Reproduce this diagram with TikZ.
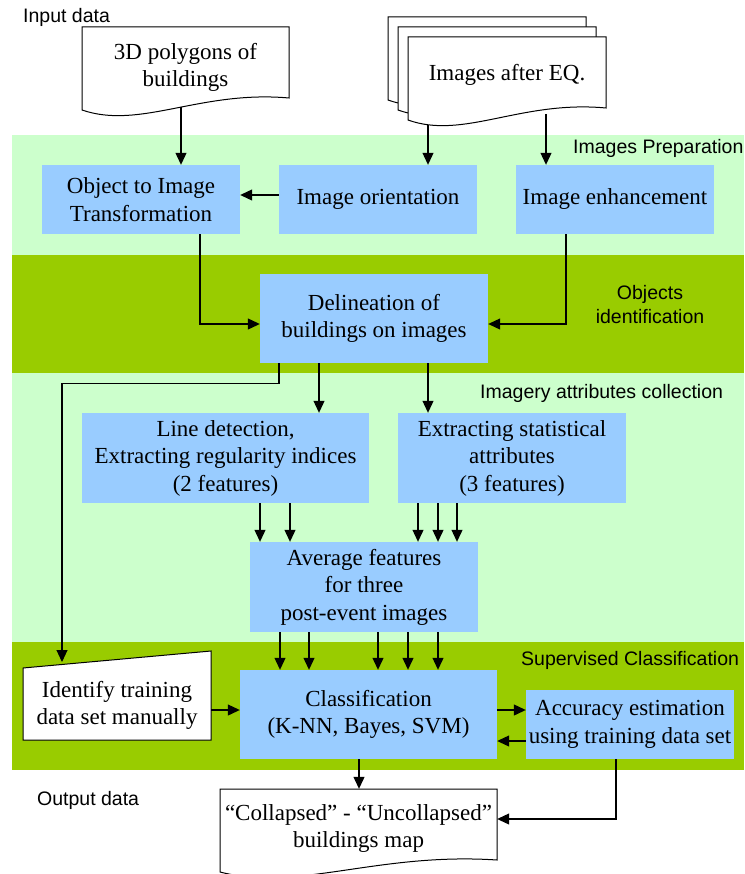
\documentclass[tikz,border=0pt]{standalone}
\usepackage{fontspec}
\setmainfont{Liberation Serif}
\setsansfont{Liberation Sans}
\usetikzlibrary{arrows.meta,calc}
\definecolor{lgreen}{HTML}{CCFFCC}
\definecolor{dgreen}{HTML}{99CC00}
\definecolor{bbox}{HTML}{99CCFF}
\newcommand\docpath[3]{%
  \draw[docline] (#1,#2) -- ({#1+#3},#2) -- ({#1+#3},{#2+71})
    .. controls ({#1+0.57*#3},{#2+63}) and ({#1+0.28*#3},{#2+103}) .. (#1,{#2+83}) -- cycle;}
\begin{document}
\begin{tikzpicture}[x=1pt,y=-1pt,
  box/.style={fill=bbox, inner sep=0pt, align=center, font=\fontsize{23}{27.5}\selectfont},
  txt/.style={inner sep=0pt, align=center, font=\fontsize{23}{27}\selectfont},
  docline/.style={draw=black, fill=white, line width=1pt},
  arr/.style={-{Triangle[length=12pt,width=11pt]}, line width=1.1pt},
  lab/.style={font=\sffamily\fontsize{19.5}{24}\selectfont, inner sep=0pt, align=center}]
\useasboundingbox (0,0) rectangle (744,874);
% bands
\fill[lgreen] (12,135) rectangle (744,255);
\fill[dgreen] (12,255) rectangle (744,373);
\fill[lgreen] (12,373) rectangle (744,642);
\fill[dgreen] (12,642) rectangle (744,770);
% labels
\node[lab, anchor=west] (lin) at (23,17) {Input data};
\node[lab, anchor=west] (lout) at (37,800) {Output data};
\node[lab, anchor=west] (lprep) at (573,148) {Images Preparation};
\node[lab] (lobj) at (650,305) {Objects\\identification};
\node[lab, anchor=west] (limg) at (480,393) {Imagery attributes collection};
\node[lab, anchor=west] (lsup) at (521,660) {Supervised Classification};
% documents
\docpath{82}{27}{207}
\node[txt, minimum width=207pt, minimum height=80pt] (doc1) at (185.5,67) {3D polygons of\\buildings};
\docpath{388}{17}{198}
\docpath{398}{27}{198}
\docpath{408}{37}{198}
\node[txt, minimum width=198pt, minimum height=76pt] (eq) at (507,75) {Images after EQ.};
\coordinate (d1out) at (181,107);
\coordinate (eq1) at (428,125);
\coordinate (eq2) at (546,114);
% boxes
\node[box, minimum width=198pt, minimum height=69pt] (obj) at (141,199.5) {Object to Image\\Transformation};
\node[box, minimum width=198pt, minimum height=69pt] (ori) at (378,199.5) {Image orientation};
\node[box, minimum width=198pt, minimum height=69pt] (enh) at (615,199.5) {Image enhancement};
\node[box, minimum width=228pt, minimum height=89pt] (del) at (374,318.5) {Delineation of\\buildings on images};
\node[box, minimum width=287pt, minimum height=90pt] (line) at (225.5,458) {Line detection,\\Extracting regularity indices\\(2 features)};
\node[box, minimum width=228pt, minimum height=90pt] (stat) at (512,458) {Extracting statistical\\attributes\\(3 features)};
\node[box, minimum width=228pt, minimum height=90pt] (avg) at (364,587) {Average features\\for three\\post-event images};
\node[box, minimum width=257pt, minimum height=89pt] (cls) at (368.5,714.5) {Classification\\(K-NN, Bayes, SVM)};
\node[box, minimum width=208pt, minimum height=69pt] (acc) at (630,724.5) {Accuracy estimation\\using training data set};
% manual input
\draw[docline] (23,668) -- (211,651) -- (211,740) -- (23,740) -- cycle;
\node[txt, minimum width=188pt, minimum height=70pt] (idt) at (117,705) {Identify training\\data set manually};
\coordinate (idtin) at (62,662);
% output document
\docpath{220}{789}{277}
\node[txt, minimum width=277pt, minimum height=78pt] (out) at (358.5,828) {“Collapsed” - “Uncollapsed”\\buildings map};
% arrows
\draw[arr] (d1out) -- (d1out |- obj.north);
\draw[arr] (eq1) -- (eq1 |- ori.north);
\draw[arr] (eq2) -- (eq2 |- enh.north);
\draw[arr] ([yshift=4.5pt]ori.west) -- ([yshift=4.5pt]obj.east);
\draw[arr] ([xshift=59pt]obj.south) |- ([yshift=-5.5pt]del.west);
\draw[arr] ([xshift=-49pt]enh.south) |- ([yshift=-5.5pt]del.east);
\draw[arr] ([xshift=-55pt]del.south) -- ([xshift=-55pt]del.south |- line.north);
\draw[arr] ([xshift=54pt]del.south) -- ([xshift=54pt]del.south |- stat.north);
\draw[arr] ([xshift=-95pt]del.south) -- ++(0,20) -| (idtin);
\foreach \x in {260,290} \draw[arr] (line.south -| \x,0) -- (avg.north -| \x,0);
\foreach \x in {418,438,457} \draw[arr] (stat.south -| \x,0) -- (avg.north -| \x,0);
\foreach \x in {280,309,378,408,438} \draw[arr] (avg.south -| \x,0) -- (cls.north -| \x,0);
\draw[arr] (idt.east |- 0,710) -- (cls.west |- 0,710);
\draw[arr] (cls.east |- 0,710) -- (acc.west |- 0,710);
\draw[arr] (acc.west |- 0,741) -- (cls.east |- 0,741);
\draw[arr] (cls.south -| 359,0) -- (out.north -| 359,0);
\draw[arr] (acc.south -| 616,0) |- (out.east |- 0,819);
\end{tikzpicture}
\end{document}
